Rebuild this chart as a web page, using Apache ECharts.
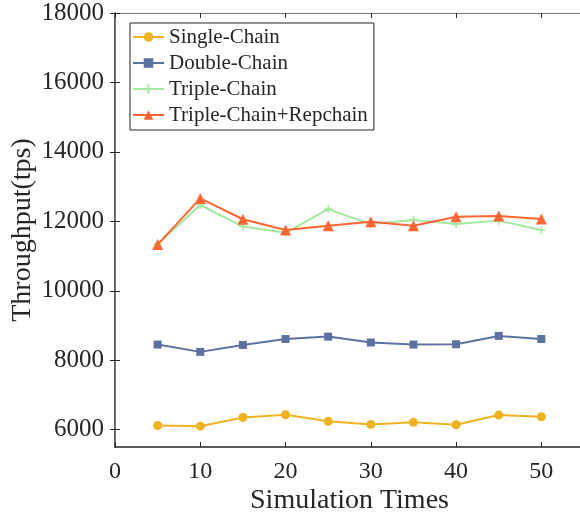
<!DOCTYPE html>
<html>
<head>
<meta charset="utf-8">
<script src="https://cdn.jsdelivr.net/npm/echarts@6/dist/echarts.min.js"></script>
<style>
  html, body { margin: 0; padding: 0; background: #fff; }
  #chart { width: 580px; height: 518px; }
</style>
</head>
<body>
<div id="chart"></div>
<script>
const simTimes = [5, 10, 15, 20, 25, 30, 35, 40, 45, 50]
const singleChain = [6120, 6100, 6350, 6430, 6240, 6150, 6210, 6140, 6420, 6370]
const doubleChain = [8450, 8240, 8440, 8610, 8680, 8510, 8450, 8460, 8700, 8610]
const tripleChain = [11340, 12470, 11850, 11670, 12350, 11920, 12040, 11920, 12020, 11750]
const tripleRepchain = [11330, 12660, 12060, 11750, 11870, 11990, 11870, 12130, 12150, 12070]
const xTicks = [0, 10, 20, 30, 40, 50]
const yTicks = [6000, 8000, 10000, 12000, 14000, 16000, 18000]

const FONT = 'Liberation Serif, Times New Roman, serif'
const INK = '#262626'
const PLUS = 'path://M-1,-5h2v4h4v2h-4v4h-2v-4h-4v-2h4z'

const chart = echarts.init(document.getElementById('chart'))

const pairs = (ys) => simTimes.map((x, i) => [x, ys[i]])

const makeSeries = (name, ys, color, symbol, size) => ({
  name,
  type: 'line',
  data: pairs(ys),
  symbol,
  symbolSize: size,
  lineStyle: { color, width: 2 },
  itemStyle: { color },
  emphasis: { disabled: true },
  z: 3,
})

const tickStyle = { inside: true, length: 5, lineStyle: { color: INK } }
const plain = (v) => String(v)

const option = {
  animation: false,
  backgroundColor: '#fff',
  grid: { left: 115, top: 13, width: 469, height: 434, outerBoundsMode: 'none', containLabel: false },
  legend: {
    orient: 'vertical',
    left: 130,
    top: 23,
    padding: [3, 6, 4, 2],
    itemGap: 4,
    itemWidth: 31,
    itemHeight: 12,
    borderColor: INK,
    borderWidth: 1,
    backgroundColor: '#fff',
    textStyle: { fontFamily: FONT, fontSize: 21, color: INK, lineHeight: 22 },
  },
  xAxis: [
    {
      type: 'value',
      min: 0,
      max: 55,
      name: 'Simulation Times',
      nameLocation: 'middle',
      nameGap: 40,
      nameMoveOverlap: false,
      nameTextStyle: { fontFamily: FONT, fontSize: 28, color: INK },
      axisLine: { show: true, lineStyle: { color: INK, width: 1.5 } },
      axisTick: { ...tickStyle, customValues: xTicks },
      axisLabel: { customValues: xTicks, formatter: plain, fontFamily: FONT, fontSize: 24, color: INK, margin: 13 },
      splitLine: { show: false },
    },
    {
      type: 'value',
      position: 'top',
      min: 0,
      max: 55,
      axisLine: { show: true, lineStyle: { color: '#777', width: 1 } },
      axisTick: { ...tickStyle, customValues: xTicks },
      axisLabel: { show: false },
      splitLine: { show: false },
    },
  ],
  yAxis: [
    {
      type: 'value',
      min: 5500,
      max: 18000,
      name: 'Throughput(tps)',
      nameLocation: 'middle',
      nameGap: 78,
      nameMoveOverlap: false,
      nameTextStyle: { fontFamily: FONT, fontSize: 28, color: INK },
      axisLine: { show: true, lineStyle: { color: INK, width: 1.5 } },
      axisTick: { ...tickStyle, customValues: yTicks },
      axisLabel: { customValues: yTicks, formatter: plain, fontFamily: FONT, fontSize: 25, color: INK, margin: 11 },
      splitLine: { show: false },
    },
    {
      type: 'value',
      position: 'right',
      min: 5500,
      max: 18000,
      axisLine: { show: true, lineStyle: { color: '#777', width: 1 } },
      axisTick: { ...tickStyle, customValues: yTicks },
      axisLabel: { show: false },
      splitLine: { show: false },
    },
  ],
  series: [
    makeSeries('Single-Chain', singleChain, '#EFB221', 'circle', 9),
    makeSeries('Double-Chain', doubleChain, '#5D71A0', 'rect', 8),
    makeSeries('Triple-Chain', tripleChain, '#A2E89E', PLUS, 8),
    makeSeries('Triple-Chain+Repchain', tripleRepchain, '#FF6633', 'triangle', 11),
  ],
}

chart.setOption(option)
</script>
</body>
</html>
